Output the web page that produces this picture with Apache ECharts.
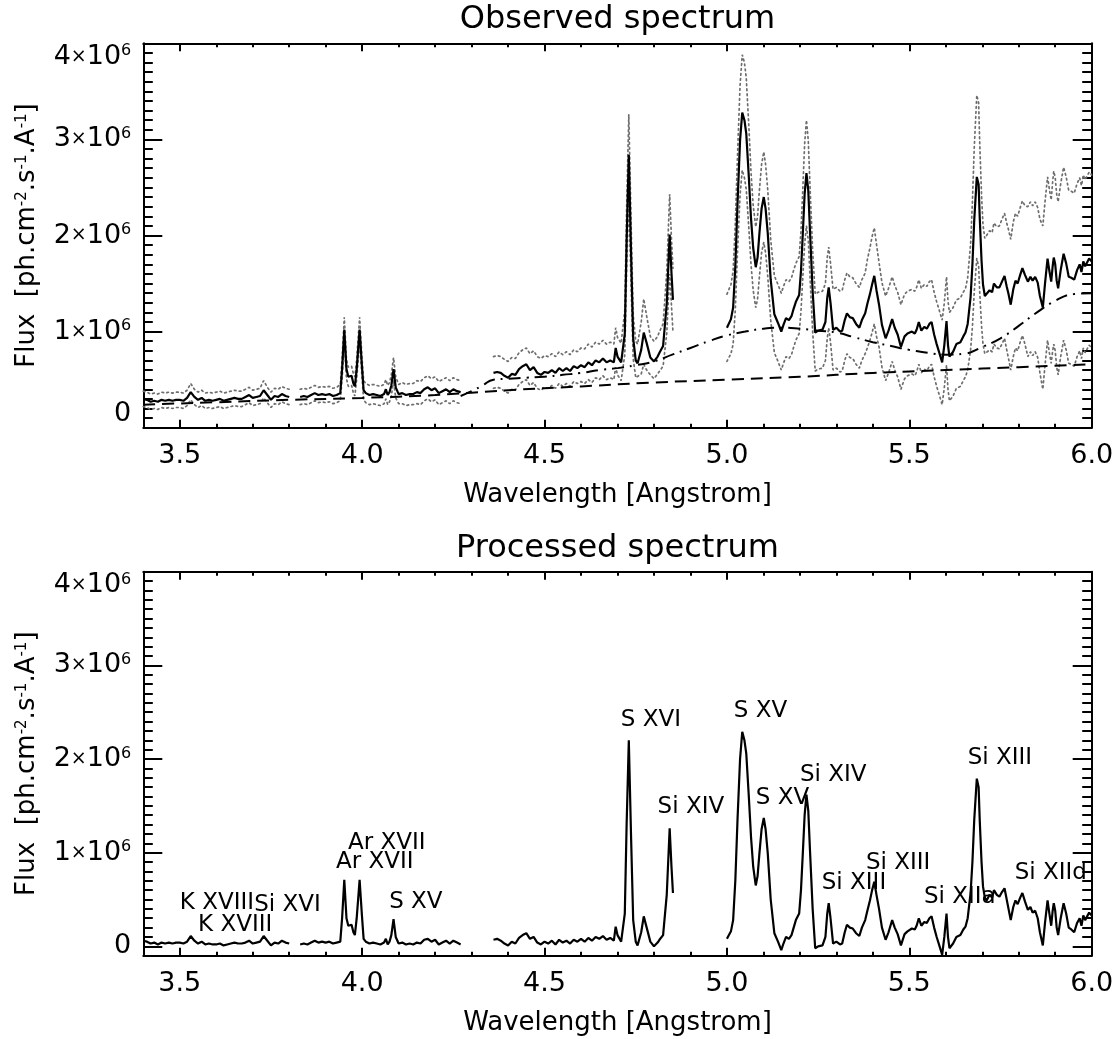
<!DOCTYPE html>
<html><head><meta charset="utf-8">
<script src="https://cdn.jsdelivr.net/npm/echarts@6/dist/echarts.min.js"></script>
<style>html,body{margin:0;padding:0;background:#fff}#c{width:1120px;height:1039px}</style>
</head><body><div id="c"></div>
<script>
// ---------- DATA (flux in units of 10^6 ph cm^-2 s^-1 A^-1) ----------
const titleTop = 'Observed spectrum';
const titleBottom = 'Processed spectrum';
const xName = 'Wavelength [Angstrom]';
const xMajorTicks = [3.5, 4.0, 4.5, 5.0, 5.5, 6.0];
const yMajorTicks = [0, 1, 2, 3, 4];

// segment A
const wlA = [3.40,3.41,3.42,3.43,3.44,3.45,3.46,3.47,3.48,3.49,3.50,3.51,3.52,3.53,3.54,3.55,3.56,3.57,3.58,3.59,3.60,3.61,3.62,3.63,3.64,3.65,3.66,3.67,3.68,3.69,3.70,3.71,3.72,3.73,3.74,3.75,3.76,3.77,3.78,3.79,3.80];
const obsA = [0.30,0.29,0.27,0.28,0.27,0.29,0.28,0.29,0.28,0.29,0.29,0.28,0.31,0.37,0.32,0.29,0.31,0.28,0.29,0.28,0.29,0.30,0.28,0.29,0.30,0.31,0.30,0.30,0.32,0.34,0.31,0.32,0.33,0.39,0.34,0.29,0.33,0.32,0.35,0.33,0.32];
const upA = [0.38,0.37,0.35,0.36,0.35,0.37,0.36,0.37,0.36,0.37,0.37,0.36,0.39,0.46,0.40,0.37,0.39,0.36,0.37,0.36,0.37,0.38,0.36,0.37,0.38,0.39,0.38,0.38,0.40,0.42,0.39,0.40,0.41,0.49,0.42,0.37,0.41,0.40,0.43,0.41,0.40];
const loA = [0.22,0.21,0.19,0.20,0.19,0.21,0.20,0.21,0.20,0.21,0.21,0.20,0.23,0.29,0.24,0.21,0.23,0.20,0.21,0.20,0.21,0.22,0.20,0.21,0.22,0.23,0.22,0.22,0.24,0.26,0.23,0.24,0.25,0.31,0.26,0.21,0.25,0.24,0.27,0.25,0.24];
const procA = [0.06,0.05,0.03,0.04,0.02,0.04,0.03,0.04,0.03,0.04,0.04,0.03,0.05,0.11,0.06,0.03,0.05,0.02,0.03,0.02,0.02,0.03,0.01,0.02,0.03,0.04,0.03,0.03,0.04,0.06,0.03,0.04,0.05,0.11,0.06,0.01,0.04,0.03,0.06,0.04,0.03];

// segment B
const wlB = [3.83,3.84,3.85,3.86,3.87,3.88,3.89,3.90,3.91,3.92,3.93,3.94,3.945,3.951,3.957,3.962,3.967,3.971,3.976,3.980,3.985,3.993,3.999,4.004,4.01,4.02,4.03,4.04,4.05,4.06,4.065,4.07,4.075,4.08,4.086,4.092,4.10,4.11,4.12,4.13,4.14,4.15,4.16,4.17,4.18,4.19,4.20,4.21,4.22,4.23,4.24,4.25,4.26,4.27];
const obsB = [0.32,0.33,0.32,0.34,0.36,0.34,0.35,0.34,0.35,0.33,0.34,0.36,0.61,1.02,0.61,0.53,0.51,0.54,0.46,0.43,0.61,1.02,0.66,0.39,0.36,0.34,0.35,0.34,0.33,0.35,0.40,0.34,0.37,0.44,0.61,0.42,0.35,0.36,0.34,0.35,0.35,0.37,0.36,0.40,0.42,0.39,0.41,0.36,0.38,0.40,0.37,0.40,0.38,0.37];
const upB = [0.40,0.41,0.40,0.42,0.44,0.42,0.43,0.42,0.43,0.41,0.42,0.45,0.71,1.15,0.71,0.63,0.61,0.64,0.56,0.53,0.71,1.15,0.76,0.49,0.46,0.44,0.45,0.44,0.43,0.45,0.50,0.44,0.47,0.55,0.73,0.53,0.45,0.47,0.45,0.46,0.46,0.49,0.48,0.52,0.54,0.51,0.53,0.48,0.50,0.52,0.49,0.52,0.50,0.49];
const loB = [0.24,0.25,0.24,0.26,0.28,0.26,0.27,0.26,0.27,0.25,0.26,0.28,0.51,0.89,0.51,0.43,0.41,0.44,0.36,0.33,0.51,0.89,0.56,0.29,0.26,0.24,0.25,0.24,0.23,0.25,0.30,0.24,0.27,0.33,0.49,0.31,0.25,0.25,0.23,0.24,0.24,0.25,0.24,0.28,0.30,0.27,0.29,0.24,0.26,0.28,0.25,0.28,0.26,0.25];
const procB = [0.02,0.03,0.02,0.04,0.06,0.04,0.05,0.04,0.05,0.03,0.04,0.05,0.30,0.71,0.30,0.22,0.20,0.23,0.15,0.12,0.30,0.71,0.35,0.08,0.05,0.03,0.04,0.03,0.02,0.04,0.08,0.02,0.05,0.12,0.29,0.10,0.03,0.04,0.02,0.03,0.02,0.04,0.03,0.07,0.08,0.05,0.07,0.02,0.04,0.06,0.03,0.06,0.04,0.02];

// segment C
const wlC = [4.36,4.37,4.38,4.39,4.40,4.41,4.42,4.43,4.44,4.45,4.46,4.47,4.48,4.49,4.50,4.51,4.52,4.53,4.54,4.55,4.56,4.57,4.58,4.59,4.60,4.61,4.62,4.63,4.64,4.65,4.66,4.67,4.68,4.69,4.695,4.70,4.71,4.72,4.725,4.731,4.737,4.743,4.75,4.755,4.765,4.772,4.78,4.79,4.80,4.81,4.815,4.825,4.83,4.835,4.843,4.848,4.852];
const obsC = [0.57,0.58,0.57,0.54,0.52,0.56,0.55,0.61,0.64,0.66,0.60,0.63,0.57,0.55,0.58,0.57,0.60,0.57,0.62,0.59,0.62,0.59,0.64,0.62,0.65,0.63,0.68,0.65,0.70,0.68,0.72,0.68,0.70,0.68,0.83,0.74,0.68,0.98,1.94,2.84,1.84,0.93,0.70,0.67,0.81,0.99,0.88,0.73,0.69,0.74,0.78,0.85,0.83,1.29,2.01,1.61,1.33];
const upC = [0.74,0.75,0.74,0.71,0.69,0.73,0.72,0.78,0.81,0.83,0.77,0.80,0.74,0.72,0.75,0.74,0.77,0.74,0.79,0.76,0.79,0.76,0.81,0.79,0.83,0.82,0.87,0.84,0.89,0.87,0.91,0.87,0.89,0.87,1.04,0.94,0.88,1.22,2.28,3.26,2.18,1.17,0.90,0.87,1.10,1.34,1.16,0.95,0.90,0.95,1.00,1.08,1.06,1.62,2.43,1.96,1.66];
const loC = [0.41,0.42,0.41,0.38,0.36,0.40,0.39,0.45,0.48,0.50,0.44,0.47,0.41,0.39,0.42,0.41,0.44,0.41,0.46,0.43,0.46,0.43,0.48,0.46,0.48,0.46,0.50,0.47,0.52,0.50,0.54,0.50,0.52,0.50,0.63,0.55,0.49,0.76,1.62,2.44,1.52,0.72,0.52,0.50,0.56,0.66,0.60,0.55,0.51,0.56,0.58,0.64,0.62,0.98,1.60,1.27,1.00];
const procC = [0.07,0.08,0.06,0.03,0.01,0.05,0.03,0.09,0.12,0.14,0.08,0.10,0.04,0.02,0.05,0.03,0.06,0.02,0.07,0.04,0.06,0.03,0.07,0.05,0.08,0.05,0.09,0.06,0.10,0.08,0.11,0.07,0.09,0.06,0.21,0.12,0.05,0.35,1.30,2.20,1.20,0.28,0.05,0.01,0.15,0.32,0.20,0.05,0.00,0.04,0.07,0.12,0.10,0.55,1.26,0.85,0.57];

// segment D
const wlD = [5.000,5.005,5.011,5.017,5.023,5.029,5.036,5.042,5.048,5.053,
5.060,5.066,5.072,5.079,5.084,5.089,5.095,5.101,5.106,5.112,
5.120,5.130,5.140,5.149,5.155,5.162,5.170,5.177,5.183,5.189,
5.198,5.203,5.208,5.213,5.218,5.223,5.228,5.235,5.242,5.250,
5.262,5.270,5.275,5.279,5.284,5.291,5.300,5.310,5.316,5.323,
5.329,5.337,5.345,5.354,5.363,5.370,5.379,5.385,5.392,5.398,
5.404,5.410,5.417,5.425,5.435,5.443,5.453,5.460,5.468,5.477,
5.487,5.495,5.500,5.507,5.515,5.520,5.526,5.533,5.541,5.548,
5.555,5.561,5.568,5.575,5.583,5.590,5.596,5.602,5.606,5.610,
5.620,5.629,5.640,5.648,5.654,5.660,5.668,5.673,5.678,5.685,
5.690,5.693,5.698,5.702,5.707,5.712,5.720,5.727,5.732,5.740,
5.747,5.754,5.761,5.767,5.772,5.778,5.785,5.791,5.797,5.804,
5.810,5.817,5.825,5.832,5.838,5.845,5.852,5.858,5.866,5.872,
5.879,5.884,5.889,5.893,5.896,5.900,5.904,5.908,5.915,5.923,
5.930,5.937,5.944,5.952,5.960,5.967,5.972,5.977,5.982,5.987,
5.993,6.000];
const obsD = [1.04,1.06,1.13,1.25,1.68,2.33,2.99,3.28,3.20,3.06,
2.61,2.18,1.87,1.67,1.77,2.02,2.28,2.40,2.28,2.02,
1.54,1.18,1.09,1.00,1.07,1.14,1.12,1.16,1.24,1.31,
1.38,1.63,2.02,2.43,2.65,2.47,2.02,1.42,0.99,1.01,
1.02,1.10,1.35,1.46,1.30,1.02,1.04,1.00,1.01,1.12,
1.19,1.15,1.14,1.08,1.04,1.12,1.19,1.29,1.39,1.49,
1.58,1.43,1.28,1.07,0.93,1.01,1.13,1.04,0.97,0.84,
0.95,0.98,0.96,1.00,0.98,1.02,1.10,1.01,1.05,1.03,
1.08,1.10,0.97,0.87,0.77,0.68,0.86,1.11,0.86,0.74,
0.79,0.87,0.89,0.95,0.99,1.08,1.36,1.70,2.16,2.61,
2.53,2.19,1.74,1.49,1.37,1.35,1.43,1.41,1.50,1.46,
1.46,1.52,1.58,1.47,1.39,1.28,1.44,1.53,1.50,1.59,
1.66,1.59,1.52,1.57,1.53,1.57,1.51,1.37,1.25,1.50,
1.76,1.63,1.52,1.68,1.77,1.70,1.53,1.45,1.64,1.81,
1.71,1.57,1.56,1.54,1.64,1.70,1.62,1.73,1.68,1.70,
1.76,1.73];
const upD = [1.39,1.41,1.49,1.63,2.13,2.83,3.56,3.88,3.80,3.64,
3.14,2.66,2.31,2.09,2.20,2.47,2.74,2.87,2.74,2.47,
1.96,1.58,1.49,1.40,1.47,1.54,1.52,1.56,1.64,1.71,
1.78,2.05,2.48,2.95,3.20,2.99,2.49,1.84,1.39,1.41,
1.42,1.50,1.77,1.88,1.71,1.44,1.46,1.42,1.43,1.54,
1.61,1.57,1.56,1.50,1.46,1.54,1.61,1.75,1.87,1.99,
2.08,1.91,1.72,1.51,1.37,1.45,1.57,1.48,1.41,1.28,
1.39,1.42,1.40,1.44,1.42,1.46,1.54,1.45,1.49,1.47,
1.52,1.54,1.41,1.31,1.21,1.12,1.30,1.57,1.32,1.20,
1.25,1.33,1.35,1.41,1.45,1.56,1.91,2.35,2.91,3.46,
3.38,2.97,2.42,2.11,1.97,1.95,2.05,2.03,2.13,2.09,
2.10,2.17,2.23,2.13,2.06,1.96,2.14,2.23,2.20,2.29,
2.36,2.31,2.30,2.35,2.31,2.35,2.29,2.17,2.10,2.35,
2.61,2.48,2.37,2.56,2.67,2.60,2.43,2.35,2.54,2.71,
2.61,2.47,2.46,2.44,2.54,2.60,2.52,2.63,2.58,2.60,
2.66,2.63];
const loD = [0.69,0.71,0.77,0.87,1.23,1.83,2.42,2.68,2.60,2.48,
2.08,1.70,1.43,1.25,1.34,1.57,1.82,1.93,1.82,1.57,
1.12,0.78,0.69,0.60,0.67,0.74,0.72,0.76,0.84,0.91,
0.98,1.21,1.56,1.91,2.10,1.95,1.55,1.00,0.59,0.61,
0.62,0.70,0.93,1.04,0.89,0.60,0.62,0.58,0.59,0.70,
0.77,0.73,0.72,0.66,0.62,0.70,0.77,0.83,0.91,0.99,
1.08,0.95,0.84,0.63,0.49,0.57,0.69,0.60,0.53,0.40,
0.51,0.54,0.52,0.56,0.54,0.58,0.66,0.57,0.61,0.59,
0.64,0.66,0.53,0.43,0.33,0.24,0.42,0.65,0.40,0.28,
0.33,0.41,0.43,0.49,0.53,0.60,0.81,1.05,1.41,1.76,
1.68,1.41,1.06,0.87,0.77,0.75,0.81,0.79,0.87,0.83,
0.82,0.87,0.93,0.81,0.72,0.60,0.74,0.83,0.80,0.89,
0.96,0.87,0.74,0.79,0.75,0.79,0.73,0.57,0.40,0.65,
0.91,0.78,0.67,0.80,0.87,0.80,0.63,0.55,0.74,0.91,
0.81,0.67,0.66,0.64,0.74,0.80,0.72,0.83,0.78,0.80,
0.86,0.83];
const procD = [0.08,0.10,0.16,0.28,0.70,1.35,2.00,2.29,2.20,2.06,
1.60,1.17,0.85,0.65,0.75,0.99,1.25,1.37,1.25,0.99,
0.50,0.14,0.05,-0.04,0.03,0.10,0.08,0.12,0.20,0.28,
0.35,0.60,0.99,1.40,1.62,1.45,1.00,0.40,-0.02,0.00,
0.01,0.10,0.35,0.46,0.30,0.03,0.05,0.02,0.03,0.15,
0.23,0.20,0.19,0.14,0.11,0.20,0.28,0.38,0.49,0.60,
0.69,0.55,0.40,0.20,0.07,0.15,0.28,0.20,0.13,0.01,
0.13,0.16,0.15,0.19,0.18,0.22,0.30,0.22,0.26,0.25,
0.30,0.32,0.20,0.10,0.00,-0.09,0.10,0.35,0.10,-0.02,
0.03,0.10,0.12,0.18,0.21,0.30,0.57,0.90,1.35,1.79,
1.70,1.35,0.90,0.64,0.52,0.49,0.55,0.52,0.60,0.55,
0.53,0.58,0.62,0.50,0.40,0.28,0.42,0.49,0.45,0.52,
0.57,0.48,0.39,0.42,0.36,0.38,0.30,0.15,0.01,0.25,
0.49,0.35,0.22,0.38,0.46,0.38,0.20,0.12,0.30,0.46,
0.35,0.20,0.18,0.15,0.25,0.30,0.22,0.33,0.28,0.30,
0.36,0.33];

// continuum (dashed) and background (dash-dot)
const contWl = [3.4,3.6,3.8,4.0,4.2,4.4,4.6,4.8,5.0,5.2,5.4,5.6,5.8,6.0];
const contFlux = [0.24,0.265,0.29,0.31,0.34,0.39,0.43,0.47,0.50,0.53,0.57,0.60,0.63,0.66];
const bgWl = [4.27,4.30,4.33,4.36,4.40,4.45,4.50,4.55,4.60,4.65,4.70,4.75,4.80,4.85,4.90,4.95,5.00,5.05,5.10,5.15,5.20,5.25,5.30,5.35,5.40,5.45,5.50,5.55,5.60,5.65,5.70,5.75,5.80,5.85,5.90,5.95,6.00];
const bgFlux = [0.33,0.38,0.44,0.50,0.51,0.52,0.53,0.55,0.57,0.60,0.62,0.65,0.69,0.76,0.83,0.90,0.96,1.00,1.03,1.04,1.03,1.01,0.99,0.94,0.89,0.85,0.81,0.78,0.76,0.77,0.84,0.93,1.06,1.20,1.32,1.39,1.40];

// line identifications (processed panel)
const lineLabels = ['K XVIII','K XVIII','Si XVI','Ar XVII','Ar XVII','S XV','S XVI','Si XIV','S XV','S XV','Si XIV','Si XIII','Si XIII','Si XIIa','Si XIId','Si XIII'];
const labelWl = [3.50,3.55,3.704,3.961,3.928,4.074,4.709,4.81,5.019,5.079,5.20,5.26,5.381,5.54,5.789,5.66];
const labelFlux = [0.463,0.228,0.442,1.103,0.90,0.473,2.42,1.49,2.51,1.585,1.83,0.677,0.89,0.528,0.784,2.01];

// ---------- CHART ----------
const FONT = "'DejaVu Sans', sans-serif";
const xMinor = []; for (let i = 34; i <= 60; i++) xMinor.push(i / 10);
const yMinorTop = []; for (let i = 0; i <= 40; i++) yMinorTop.push(i / 10);
const yMinorBot = []; for (let i = -1; i <= 40; i++) yMinorBot.push(i / 10);

const grids = [
  {left: 143.3, top: 43.3, width: 948.4, height: 384.4},
  {left: 143.3, top: 571.7, width: 948.4, height: 384.0}
];
const yMins = [0, -0.1];
const yMinors = [yMinorTop, yMinorBot];

const axLine = {color: '#000', width: 2};
const xAxes = [], yAxes = [];
grids.forEach((g, gi) => {
  [['bottom', true], ['bottom', false], ['top', true], ['top', false]].forEach(([pos, major]) => {
    xAxes.push({
      type: 'value', gridIndex: gi, position: pos, min: 3.4, max: 6.0,
      axisLine: {show: major, onZero: false, lineStyle: axLine},
      axisTick: {show: true, inside: true, length: major ? 8 : 4, customValues: major ? xMajorTicks : xMinor, lineStyle: axLine},
      axisLabel: {show: major && pos === 'bottom', customValues: xMajorTicks, formatter: v => Number(v).toFixed(1),
        fontFamily: FONT, fontSize: 27, color: '#000', margin: 15},
      splitLine: {show: false},
      name: (major && pos === 'bottom') ? xName : '', nameLocation: 'middle', nameGap: 55, nameMoveOverlap: false,
      nameTextStyle: {fontFamily: FONT, fontSize: 26, color: '#000'}
    });
  });
  [['left', true], ['left', false], ['right', true], ['right', false]].forEach(([pos, major]) => {
    const lbl = {
      show: major && pos === 'left', customValues: yMajorTicks,
      formatter: v => (v === 0 ? '0' : v + '{x|×}10{s|6}'),
      fontFamily: FONT, fontSize: 27, color: '#000', margin: 12,
      verticalAlignMaxLabel: 'top',
      rich: {x: {fontFamily: FONT, fontSize: 19, color: '#000'}, s: {fontFamily: FONT, fontSize: 16, color: '#000', verticalAlign: 'top'}}
    };
    if (gi === 0) lbl.verticalAlignMinLabel = 'bottom';
    yAxes.push({
      type: 'value', gridIndex: gi, position: pos, min: yMins[gi], max: 4,
      axisLine: {show: major, onZero: false, lineStyle: axLine},
      axisTick: {show: true, inside: true, length: major ? 19 : 9.5, customValues: major ? yMajorTicks : yMinors[gi], lineStyle: axLine},
      axisLabel: lbl,
      splitLine: {show: false},
      name: (major && pos === 'left') ? 'Flux  [ph.cm{s|-2}.s{s|-1}.A{s|-1}]' : '',
      nameLocation: 'middle', nameRotate: 90, nameGap: 103, nameMoveOverlap: false,
      nameTextStyle: {fontFamily: FONT, fontSize: 26, color: '#000',
        rich: {s: {fontFamily: FONT, fontSize: 15, color: '#000', verticalAlign: 'top'}}}
    });
  });
});

const pairs = (xs, ys) => xs.map((x, i) => [x, ys[i]]);
const segs = [
  [wlA, obsA, upA, loA, procA],
  [wlB, obsB, upB, loB, procB],
  [wlC, obsC, upC, loC, procC],
  [wlD, obsD, upD, loD, procD]
];
const base = {type: 'line', showSymbol: false, symbol: 'none', silent: true, animation: false};
const series = [];
const dotStyle = {color: '#6e6e6e', width: 1.7, type: [1.7, 3.3], cap: 'round'};
segs.forEach(([wl, obs, up, lo, proc]) => {
  series.push(Object.assign({}, base, {xAxisIndex: 0, yAxisIndex: 0, z: 2, data: pairs(wl, up), lineStyle: dotStyle}));
  series.push(Object.assign({}, base, {xAxisIndex: 0, yAxisIndex: 0, z: 2, data: pairs(wl, lo), lineStyle: dotStyle}));
  series.push(Object.assign({}, base, {xAxisIndex: 0, yAxisIndex: 0, z: 5, data: pairs(wl, obs), lineStyle: {color: '#000', width: 2.2}}));
  series.push(Object.assign({}, base, {xAxisIndex: 4, yAxisIndex: 4, z: 5, data: pairs(wl, proc), lineStyle: {color: '#000', width: 2.2}}));
});
series.push(Object.assign({}, base, {xAxisIndex: 0, yAxisIndex: 0, z: 3, smooth: true, data: pairs(contWl, contFlux), lineStyle: {color: '#000', width: 2, type: [12, 7]}}));
series.push(Object.assign({}, base, {xAxisIndex: 0, yAxisIndex: 0, z: 3, smooth: true, data: pairs(bgWl, bgFlux), lineStyle: {color: '#000', width: 2, type: [12, 6, 2, 6]}}));
series.push({
  type: 'scatter', xAxisIndex: 4, yAxisIndex: 4, symbol: 'circle', symbolSize: 0.01, silent: true, animation: false, z: 6,
  itemStyle: {color: '#000', opacity: 1},
  emphasis: {disabled: true},
  data: lineLabels.map((t, i) => ({name: t, value: [labelWl[i], labelFlux[i]]})),
  label: {show: true, position: [0, 0], align: 'left', verticalAlign: 'middle', formatter: '{b}',
    fontFamily: FONT, fontSize: 23, color: '#000', opacity: 1, textBorderWidth: 0, textBorderColor: 'transparent'}
});

const chart = echarts.init(document.getElementById('c'), null, {renderer: 'canvas'});
chart.setOption({
  backgroundColor: '#fff',
  animation: false,
  grid: grids.map(g => Object.assign({containLabel: false, outerBoundsMode: 'none'}, g)),
  xAxis: xAxes,
  yAxis: yAxes,
  graphic: [
    {type: 'text', x: 617.5, y: 20, style: {text: titleTop, font: '32px ' + FONT, fill: '#000', align: 'center', textAlign: 'center', verticalAlign: 'middle', textVerticalAlign: 'middle'}},
    {type: 'text', x: 617.5, y: 549, style: {text: titleBottom, font: '32px ' + FONT, fill: '#000', align: 'center', textAlign: 'center', verticalAlign: 'middle', textVerticalAlign: 'middle'}}
  ],
  series: series
});
</script>
</body></html>
